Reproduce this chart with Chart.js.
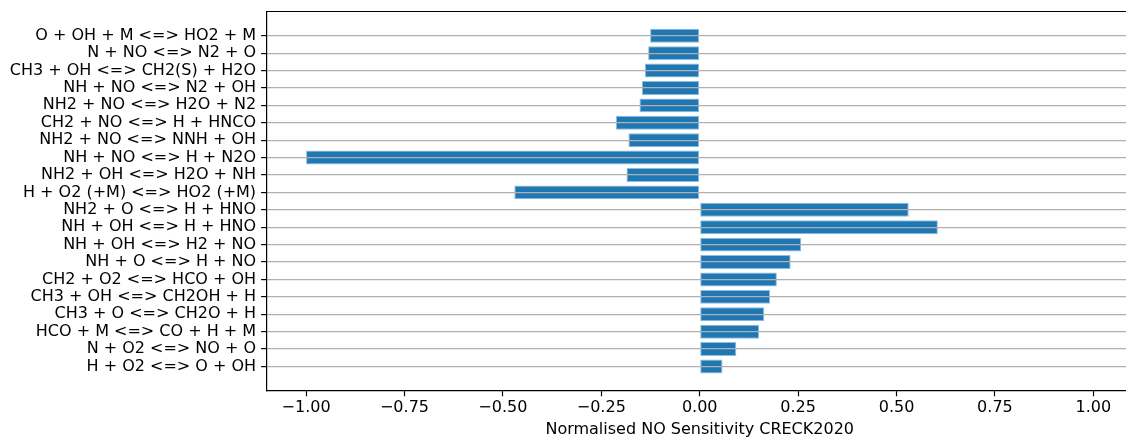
<!DOCTYPE html>
<html>
<head>
<meta charset="utf-8">
<script src="https://cdn.jsdelivr.net/npm/chart.js@4.4.1/dist/chart.umd.min.js"></script>
<style>
  html, body { margin: 0; padding: 0; background: #fff; overflow: hidden; }
  #wrap { width: 1140px; height: 442px; }
</style>
</head>
<body>
<div id="wrap"><canvas id="c" width="1140" height="442"></canvas></div>
<script>
// Reactions, listed from the bottom row of the chart to the top row
const reactions = [
  "H + O2 <=> O + OH",
  "N + O2 <=> NO + O",
  "HCO + M <=> CO + H + M",
  "CH3 + O <=> CH2O + H",
  "CH3 + OH <=> CH2OH + H",
  "CH2 + O2 <=> HCO + OH",
  "NH + O <=> H + NO",
  "NH + OH <=> H2 + NO",
  "NH + OH <=> H + HNO",
  "NH2 + O <=> H + HNO",
  "H + O2 (+M) <=> HO2 (+M)",
  "NH2 + OH <=> H2O + NH",
  "NH + NO <=> H + N2O",
  "NH2 + NO <=> NNH + OH",
  "CH2 + NO <=> H + HNCO",
  "NH2 + NO <=> H2O + N2",
  "NH + NO <=> N2 + OH",
  "CH3 + OH <=> CH2(S) + H2O",
  "N + NO <=> N2 + O",
  "O + OH + M <=> HO2 + M"
];

// Normalised NO sensitivity coefficients (same order as reactions)
const sensitivity = [
  0.058, 0.093, 0.151, 0.164, 0.179, 0.196, 0.231, 0.258, 0.605, 0.531,
  -0.471, -0.186, -1.000, -0.181, -0.213, -0.153, -0.147, -0.139, -0.131, -0.126
];

// x-axis tick values
const xTicks = [-1.00, -0.75, -0.50, -0.25, 0.00, 0.25, 0.50, 0.75, 1.00];

const FONT = "'DejaVu Sans', sans-serif";
Chart.defaults.font.family = FONT;
Chart.defaults.font.size = 16;
Chart.defaults.color = '#000';

const barPoints = reactions.map((r, i) => ({ x: sensitivity[i], y: i }));

// top spine of the axes box
const topSpine = {
  id: 'topSpine',
  afterDraw(chart) {
    const { ctx, chartArea } = chart;
    ctx.save();
    ctx.strokeStyle = '#000';
    ctx.lineWidth = 1.2;
    ctx.beginPath();
    ctx.moveTo(chartArea.left, chartArea.top);
    ctx.lineTo(chartArea.right, chartArea.top);
    ctx.stroke();
    ctx.restore();
  }
};

new Chart(document.getElementById('c'), {
  type: 'bar',
  data: {
    datasets: [{
      data: barPoints,
      backgroundColor: '#1f77b4',
      borderColor: '#8fbde0',
      borderWidth: 1,
      borderSkipped: false,
      categoryPercentage: 1.0,
      barPercentage: 0.8
    }]
  },
  options: {
    indexAxis: 'y',
    responsive: false,
    animation: false,
    devicePixelRatio: 1,
    layout: { padding: { top: 11.5, right: 7.3, bottom: 0, left: 0 } },
    plugins: { legend: { display: false }, tooltip: { enabled: false } },
    scales: {
      x: {
        type: 'linear',
        min: -1.1,
        max: 1.1,
        afterBuildTicks(scale) { scale.ticks = xTicks.map(v => ({ value: v })); },
        afterFit(scale) {
          scale.height = 51.3;
          scale.paddingLeft = 0;
          scale.paddingRight = 0;
        },
        ticks: {
          padding: 2,
          callback: v => (v < 0 ? '\u2212' : '') + Math.abs(v).toFixed(2)
        },
        grid: { drawOnChartArea: false, drawTicks: true, tickLength: 5.6, tickColor: '#000', tickWidth: 1.2 },
        border: { display: true, color: '#000', width: 1.2 },
        title: {
          display: true,
          text: 'Normalised NO Sensitivity CRECK2020',
          font: { size: 16, family: FONT },
          padding: { top: 0, bottom: 2.5 }
        }
      },
      y: {
        type: 'linear',
        min: -1.39,
        max: 20.39,
        offset: false,
        afterBuildTicks(scale) { scale.ticks = reactions.map((r, i) => ({ value: i })); },
        afterFit(scale) {
          scale.width = 266.7;
          scale.paddingTop = 0;
          scale.paddingBottom = 0;
        },
        ticks: {
          padding: 5,
          autoSkip: false,
          callback: v => reactions[v]
        },
        // grid lines sit on top of the bars
        grid: { z: 1, offset: false, color: '#b0b0b0', lineWidth: 1.2, drawTicks: true, tickLength: 5.6, tickColor: '#000', tickWidth: 1.2 },
        border: { display: true, color: '#000', width: 1.2, z: 2 }
      }
    }
  },
  plugins: [topSpine]
});
</script>
</body>
</html>
